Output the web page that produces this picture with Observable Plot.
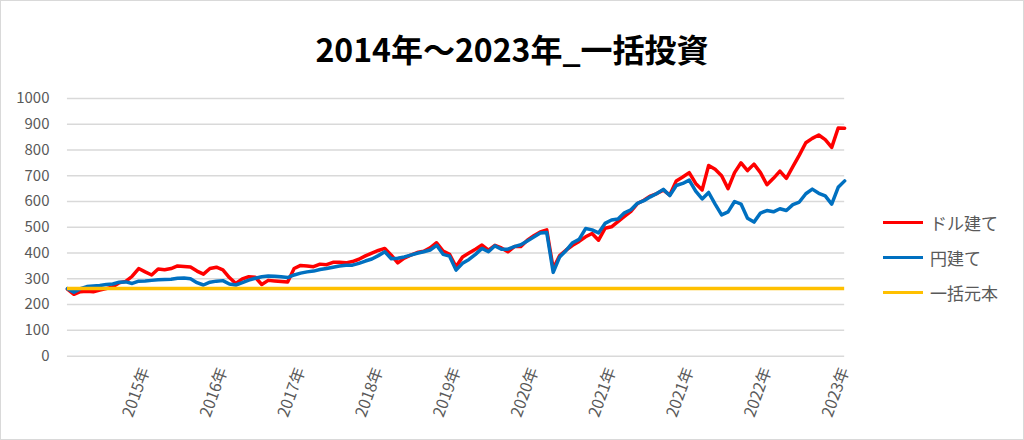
<!DOCTYPE html>
<html><head><meta charset="utf-8">
<script src="https://cdn.jsdelivr.net/npm/d3@7"></script>
<script src="https://cdn.jsdelivr.net/npm/@observablehq/plot@0.6"></script>
<style>
body{margin:0;background:#fff;font-family:"Noto Sans CJK JP","Noto Sans",sans-serif;}
#wrap{position:relative;width:1024px;height:440px;box-sizing:border-box;border:1px solid #d9d9d9;overflow:hidden;background:#fff;}
#chart{position:absolute;left:-1px;top:-1px;}
#title{position:absolute;left:0;right:0;top:28px;line-height:38px;text-align:center;font-weight:bold;font-size:32px;color:#000;}
#legend{position:absolute;left:882px;top:204px;font-size:17px;color:#595959;}
.item{height:35px;display:flex;align-items:center;}
.sw{width:40px;height:3.5px;margin-right:7px;}
</style></head><body>
<div id="wrap">
<div id="chart"></div>
<div id="title">2014年～2023年_一括投資</div>
<div id="legend"></div>
</div>
<script>
const seriesNames = ["ドル建て", "円建て", "一括元本"];
const seriesColors = ["#FF0000", "#0070C0", "#FFC000"];
const xLabels = ["2015年","2016年","2017年","2018年","2019年","2020年","2021年","2021年","2022年","2023年"];
const yTicks = [0,100,200,300,400,500,600,700,800,900,1000];
const principal = 262;
const dollarValues = [
260,240,250,252,250,256,262,269,285,290,
310,340,327,315,338,335,340,350,348,346,
330,318,340,345,335,305,282,300,308,306,
278,294,292,290,288,340,352,350,347,357,
355,364,364,362,367,376,389,400,410,418,
392,362,380,392,402,407,420,440,408,395,
347,385,400,415,431,411,430,420,405,425,
425,450,467,482,490,340,390,412,430,445,
463,476,450,496,502,522,542,562,592,605,
621,631,644,625,680,695,712,670,645,740,
725,700,650,712,750,720,745,712,665,690,
718,690,735,780,828,845,858,840,810,885,
884];
const yenValues = [
262,248,262,270,272,274,278,280,287,288,
282,291,292,294,296,297,298,302,303,300,
285,276,287,291,293,280,276,285,295,302,
308,311,310,308,305,315,322,327,330,336,
340,345,350,353,353,360,369,377,390,405,
378,380,385,392,399,405,412,430,395,388,
334,360,375,395,418,405,428,415,415,425,
432,447,462,478,480,325,385,410,440,453,
495,490,478,515,528,532,556,568,593,603,
618,631,647,623,662,670,683,640,610,635,
590,548,560,600,590,535,520,555,565,560,
572,565,588,598,630,648,632,622,590,655,
680];

const N = dollarValues.length;
const xTicks = xLabels.map((_, k) => (k + 1) * (N - 1) / xLabels.length);

const chart = Plot.plot({
  width: 1024, height: 440,
  marginLeft: 67, marginRight: 179, marginTop: 98, marginBottom: 84,
  style: {fontFamily: '"Noto Sans CJK JP","Noto Sans",sans-serif', fontSize: "15px", color: "#595959", background: "transparent"},
  x: {domain: [0, N - 1]},
  y: {domain: [0, 1000]},
  marks: [
    Plot.gridY(yTicks, {stroke: "#d9d9d9", strokeOpacity: 1, strokeWidth: 1.5}),
    Plot.axisY(yTicks, {tickSize: 0, tickPadding: 18, label: null, fill: "#595959", tickFormat: d => String(d)}),
    Plot.axisX(xTicks, {tickSize: 0, tickPadding: 12, tickRotate: -70, label: null, fill: "#595959", fontSize: 16,
      tickFormat: d => xLabels[xTicks.indexOf(d)]}),
    Plot.lineY(dollarValues, {stroke: seriesColors[0], strokeWidth: 3.5, strokeLinejoin: "round"}),
    Plot.lineY(yenValues, {stroke: seriesColors[1], strokeWidth: 3.5, strokeLinejoin: "round"}),
    Plot.ruleY([principal], {x1: 0, x2: N - 1, stroke: seriesColors[2], strokeWidth: 3.5})
  ]
});
document.getElementById("chart").append(chart);

const legend = document.getElementById("legend");
seriesNames.forEach((name, i) => {
  const it = document.createElement("div");
  it.className = "item";
  it.innerHTML = `<div class="sw" style="background:${seriesColors[i]}"></div><span>${name}</span>`;
  legend.append(it);
});
</script>
</body></html>
